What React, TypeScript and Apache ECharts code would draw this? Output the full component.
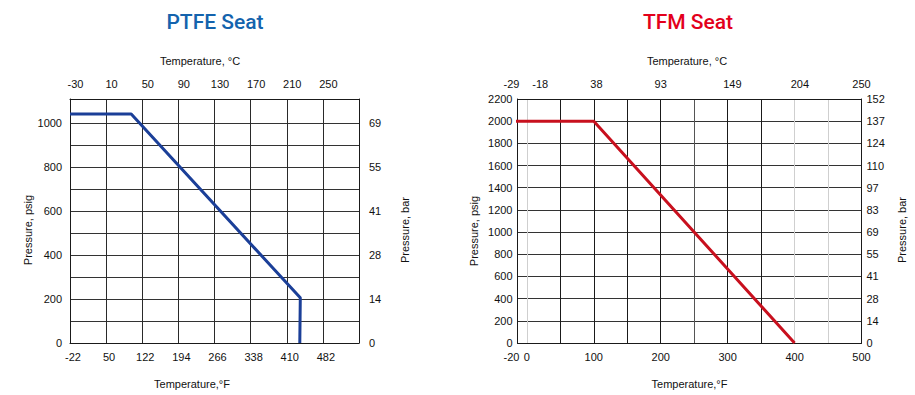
import React, { useEffect, useRef } from 'react';
import * as echarts from 'echarts';

// ---------- PTFE Seat ----------
const ptfeTempF = [-22, 100, 437, 436];
const ptfePressurePsig = [1040, 1040, 205, 0];
const ptfeAxisF = [-22, 554];
const ptfeGridF = [50, 122, 194, 266, 338, 410, 482];
const ptfeLabelF = [-22, 50, 122, 194, 266, 338, 410, 482];
const ptfeLabelC = ['-30', '10', '50', '90', '130', '170', '210', '250'];
const ptfeAxisPsig = [0, 1108];
const ptfeGridPsig = [100, 200, 300, 400, 500, 600, 700, 800, 900, 1000];
const ptfeLabelPsig = [0, 200, 400, 600, 800, 1000];
const ptfeLabelBar = ['0', '14', '28', '41', '55', '69'];

// ---------- TFM Seat ----------
const tfmTempF = [-20, 100, 400];
const tfmPressurePsig = [2000, 2000, 0];
const tfmAxisF = [-14, 500];
const tfmGridF = [0, 50, 100, 150, 200, 250, 300, 350, 400, 450];
const tfmGridColors = ['#cfcfcf', '#1a1a1a', '#1a1a1a', '#1a1a1a', '#1a1a1a', '#555555', '#1a1a1a', '#1a1a1a', '#cfcfcf', '#cfcfcf'];
const tfmBottomTickF = [-14, 0, 100, 200, 300, 400, 500];
const tfmBottomLabels = ['-20', '0', '100', '200', '300', '400', '500'];
const tfmTopTickF = [-14, 20, 104, 200, 307, 408, 500];
const tfmTopLabels = ['-29', '-18', '38', '93', '149', '204', '250'];
const tfmAxisPsig = [0, 2200];
const tfmPsigStep = 200;
const tfmLabelBar = ['0', '14', '28', '41', '55', '69', '83', '97', '110', '124', '137', '152'];

const FONT = 'Liberation Sans, Arial, Helvetica, sans-serif';
const TITLE_FONT = 'Roboto, "Noto Sans", sans-serif';

export default function App() {
  const ref = useRef<HTMLDivElement>(null);
  useEffect(() => {
    if (!ref.current) return;
    const chart = echarts.init(ref.current, undefined, { renderer: 'svg' });
    const lbl = { fontFamily: FONT, fontSize: 11, color: '#111' };
    const nameStyle = { fontFamily: FONT, fontSize: 11, color: '#111' };
    const border = { show: true, onZero: false, lineStyle: { color: '#1a1a1a', width: 1 } };
    const pick = (vals: number[], labels: string[]) => (v: number) => {
      const i = vals.indexOf(v);
      return i >= 0 ? labels[i] : '';
    };
    const edgeRich = { e: { fontFamily: FONT, fontSize: 11, color: '#111', padding: [0, 12, 0, 0] } };

    const option: any = {
      animation: false,
      backgroundColor: '#fff',
      grid: [
        { left: 70, top: 99, width: 289, height: 244, outerBoundsMode: 'none', containLabel: false },
        { left: 517.5, top: 99, width: 344, height: 244, outerBoundsMode: 'none', containLabel: false },
      ],
      graphic: [
        { type: 'text', x: 215, y: 22, style: { text: 'PTFE Seat', align: 'center', verticalAlign: 'middle', fill: '#1463ad', font: `500 21px ${TITLE_FONT}` } },
        { type: 'text', x: 688, y: 22, style: { text: 'TFM Seat', align: 'center', verticalAlign: 'middle', fill: '#e3001b', font: `500 21px ${TITLE_FONT}` } },
      ],
      xAxis: [
        {
          gridIndex: 0, type: 'value', position: 'bottom', min: ptfeAxisF[0], max: ptfeAxisF[1],
          axisLine: border, axisTick: { show: false, customValues: ptfeGridF },
          splitLine: { show: true, lineStyle: { color: '#2a2a2a', width: 1 } },
          axisLabel: { ...lbl, customValues: ptfeLabelF, margin: 8, padding: [0, 0, 0, 6], formatter: (v: number) => String(v) },
          name: 'Temperature,°F', nameLocation: 'middle', nameGap: 35,
          nameTextStyle: { ...nameStyle, padding: [0, 45, 0, 0] },
        },
        {
          gridIndex: 0, type: 'value', position: 'top', min: ptfeAxisF[0], max: ptfeAxisF[1],
          axisLine: border, axisTick: { show: false, customValues: ptfeLabelF }, splitLine: { show: false },
          axisLabel: { ...lbl, customValues: ptfeLabelF, margin: 10, padding: [0, 0, 0, 11], formatter: pick(ptfeLabelF, ptfeLabelC) },
          name: 'Temperature, °C', nameLocation: 'middle', nameGap: 33,
          nameTextStyle: { ...nameStyle, padding: [0, 29, 0, 0] },
        },
        {
          gridIndex: 1, type: 'value', position: 'bottom', min: tfmAxisF[0], max: tfmAxisF[1],
          axisLine: border, axisTick: { show: false, customValues: tfmGridF },
          splitLine: { show: true, lineStyle: { color: tfmGridColors, width: 1 } },
          axisLabel: {
            ...lbl, customValues: tfmBottomTickF, margin: 8, rich: edgeRich,
            formatter: (v: number) => { const i = tfmBottomTickF.indexOf(v); return i === 0 ? `{e|${tfmBottomLabels[i]}}` : (tfmBottomLabels[i] ?? ''); },
          },
          name: 'Temperature,°F', nameLocation: 'middle', nameGap: 35,
          nameTextStyle: { ...nameStyle },
        },
        {
          gridIndex: 1, type: 'value', position: 'top', min: tfmAxisF[0], max: tfmAxisF[1],
          axisLine: border, axisTick: { show: false, customValues: tfmTopTickF }, splitLine: { show: false },
          axisLabel: {
            ...lbl, customValues: tfmTopTickF, margin: 10, rich: edgeRich,
            formatter: (v: number) => { const i = tfmTopTickF.indexOf(v); return i === 0 ? `{e|${tfmTopLabels[i]}}` : (tfmTopLabels[i] ?? ''); },
          },
          name: 'Temperature, °C', nameLocation: 'middle', nameGap: 33,
          nameTextStyle: { ...nameStyle, padding: [0, 5, 0, 0] },
        },
      ],
      yAxis: [
        {
          gridIndex: 0, type: 'value', position: 'left', min: ptfeAxisPsig[0], max: ptfeAxisPsig[1],
          axisLine: border, axisTick: { show: false, customValues: ptfeGridPsig },
          splitLine: { show: true, lineStyle: { color: '#333', width: 1 } },
          axisLabel: { ...lbl, customValues: ptfeLabelPsig, margin: 8, formatter: (v: number) => String(v) },
          name: 'Pressure, psig', nameLocation: 'middle', nameRotate: 90, nameGap: 36,
          nameTextStyle: { ...nameStyle, padding: [0, 18, 0, 0] },
        },
        {
          gridIndex: 0, type: 'value', position: 'right', min: ptfeAxisPsig[0], max: ptfeAxisPsig[1],
          axisLine: border, axisTick: { show: false, customValues: ptfeLabelPsig }, splitLine: { show: false },
          axisLabel: { ...lbl, customValues: ptfeLabelPsig, margin: 10, formatter: pick(ptfeLabelPsig, ptfeLabelBar) },
          name: 'Pressure, bar', nameLocation: 'middle', nameRotate: 90, nameGap: 40,
          nameTextStyle: { ...nameStyle, padding: [0, 18, 0, 0] },
        },
        {
          gridIndex: 1, type: 'value', position: 'left', min: tfmAxisPsig[0], max: tfmAxisPsig[1], interval: tfmPsigStep,
          axisLine: border, axisTick: { show: false },
          splitLine: { show: true, lineStyle: { color: '#333', width: 1 } },
          axisLabel: { ...lbl, margin: 5, formatter: (v: number) => String(v) },
          name: 'Pressure, psig', nameLocation: 'middle', nameRotate: 90, nameGap: 38,
          nameTextStyle: { ...nameStyle, padding: [0, 20, 0, 0] },
        },
        {
          gridIndex: 1, type: 'value', position: 'right', min: tfmAxisPsig[0], max: tfmAxisPsig[1], interval: tfmPsigStep,
          axisLine: border, axisTick: { show: false }, splitLine: { show: false },
          axisLabel: { ...lbl, margin: 5, formatter: (v: number) => tfmLabelBar[Math.round(v / tfmPsigStep)] ?? '' },
          name: 'Pressure, bar', nameLocation: 'middle', nameRotate: 90, nameGap: 35,
          nameTextStyle: { ...nameStyle, padding: [0, 18, 0, 0] },
        },
      ],
      series: [
        {
          type: 'line', xAxisIndex: 0, yAxisIndex: 0, symbol: 'none', clip: true,
          data: ptfeTempF.map((t, i) => [t, ptfePressurePsig[i]]),
          lineStyle: { color: '#1b3f98', width: 3 },
        },
        {
          type: 'line', xAxisIndex: 2, yAxisIndex: 2, symbol: 'none', clip: true,
          data: tfmTempF.map((t, i) => [t, tfmPressurePsig[i]]),
          lineStyle: { color: '#c8101e', width: 3 },
        },
      ],
    };
    chart.setOption(option);
    return () => chart.dispose();
  }, []);
  return <div ref={ref} style={{ position: 'fixed', left: 0, top: 0, width: 915, height: 395, background: '#fff' }} />;
}
